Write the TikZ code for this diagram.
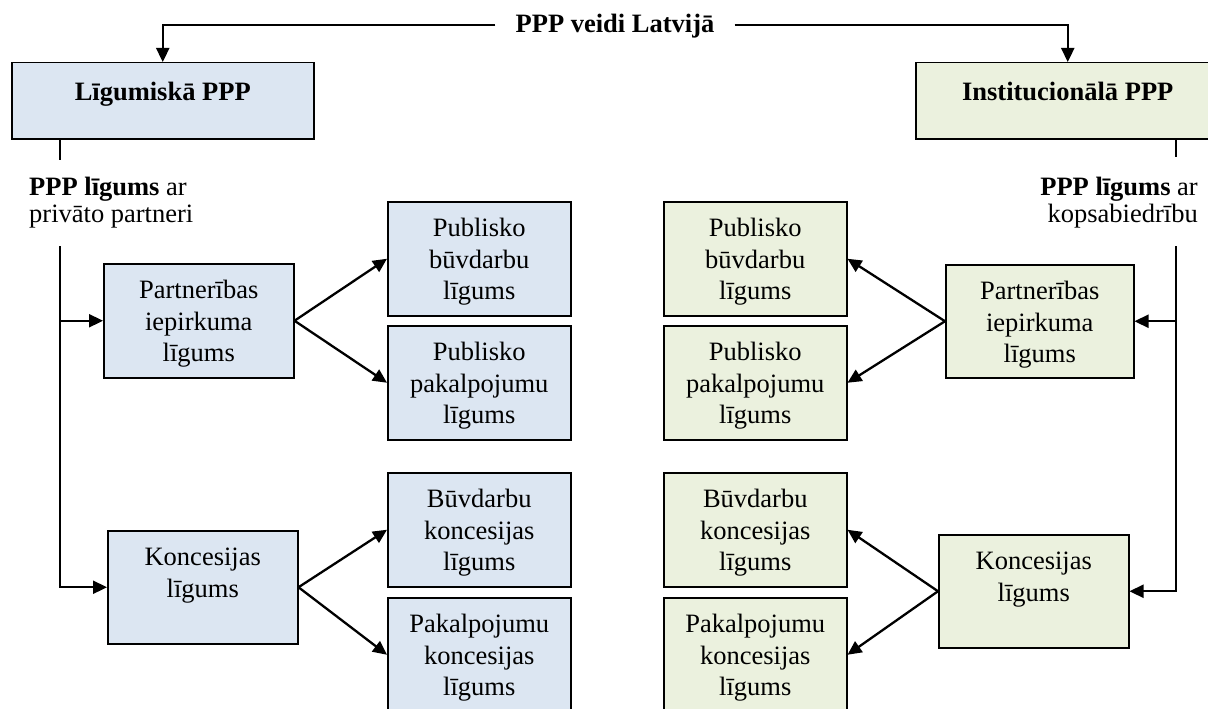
\documentclass[tikz,border=0pt]{standalone}
\usepackage{fontspec}
\setmainfont{Liberation Serif}
\usetikzlibrary{arrows.meta}
\definecolor{bluefill}{HTML}{DCE6F2}
\definecolor{greenfill}{HTML}{EBF1DE}
\newcommand\boxtxt[4]{\parbox[c][#1][t]{#2}{\centering\rule{0pt}{#3}#4}}
\begin{document}
\begin{tikzpicture}[x=1pt,y=-1pt,
  basefont/.style={font=\fontsize{26.5pt}{31.5pt}\selectfont, inner sep=0pt},
  bluebox/.style={basefont, rectangle, draw=black, line width=1.5pt, fill=bluefill, anchor=north west},
  greenbox/.style={basefont, rectangle, draw=black, line width=1.5pt, fill=greenfill, anchor=north west},
  conn/.style={line width=2.3pt, draw=black},
  arr/.style={conn, -{Triangle[length=14pt,width=13pt]}}]
\useasboundingbox (0,0) rectangle (1208,709);
\clip (0,0) rectangle (1208,709);
\fill[white] (0,0) rectangle (1208,709);

% title
\node[basefont, font=\fontsize{26.5pt}{31.5pt}\selectfont\bfseries, inner xsep=20pt, anchor=base] (title) at (615,33) {PPP veidi Latvijā};

% top boxes
\node[bluebox] (lbox) at (11,62) {\boxtxt{76pt}{302pt}{38pt}{\textbf{Līgumiskā PPP}}};
\node[greenbox] (rbox) at (915,62) {\boxtxt{76pt}{304pt}{38pt}{\textbf{Institucionālā PPP}}};

% side labels
\node[basefont, anchor=base west] (llab) at (29,195) {\parbox[t]{220pt}{\raggedright\fontsize{26.5pt}{27pt}\selectfont\textbf{PPP līgums} ar\\privāto partneri}};
\node[basefont, anchor=base east] (rlab) at (1198,195) {\parbox[t]{220pt}{\raggedleft\fontsize{26.5pt}{27pt}\selectfont\textbf{PPP līgums} ar\\kopsabiedrību}};

% left column
\node[bluebox] (lpart) at (103,263) {\boxtxt{114pt}{190pt}{35pt}{Partnerības\\iepirkuma\\līgums}};
\node[bluebox] (lkon) at (107,530) {\boxtxt{113pt}{190pt}{35pt}{Koncesijas\\līgums}};
\node[bluebox] (lpub1) at (387,201) {\boxtxt{114pt}{183pt}{35pt}{Publisko\\būvdarbu\\līgums}};
\node[bluebox] (lpub2) at (387,325) {\boxtxt{114pt}{183pt}{35pt}{Publisko\\pakalpojumu\\līgums}};
\node[bluebox] (lbk) at (387,472) {\boxtxt{114pt}{183pt}{35pt}{Būvdarbu\\koncesijas\\līgums}};
\node[bluebox] (lpk) at (387,597) {\boxtxt{114pt}{183pt}{35pt}{Pakalpojumu\\koncesijas\\līgums}};

% right column
\node[greenbox] (rpart) at (945,264) {\boxtxt{113pt}{188pt}{35pt}{Partnerības\\iepirkuma\\līgums}};
\node[greenbox] (rkon) at (938,534) {\boxtxt{113pt}{190pt}{35pt}{Koncesijas\\līgums}};
\node[greenbox] (rpub1) at (663,201) {\boxtxt{114pt}{183pt}{35pt}{Publisko\\būvdarbu\\līgums}};
\node[greenbox] (rpub2) at (663,325) {\boxtxt{114pt}{183pt}{35pt}{Publisko\\pakalpojumu\\līgums}};
\node[greenbox] (rbk) at (663,472) {\boxtxt{114pt}{183pt}{35pt}{Būvdarbu\\koncesijas\\līgums}};
\node[greenbox] (rpk) at (663,597) {\boxtxt{114pt}{183pt}{35pt}{Pakalpojumu\\koncesijas\\līgums}};

% top connectors
\coordinate (tlev) at (0,25);
\draw[arr] (title.west |- tlev) -| (lbox.north);
\draw[arr] (title.east |- tlev) -| (rbox.north);

% left trunk
\coordinate (la) at (60,160);
\coordinate (lb) at (60,246);
\draw[conn] (lbox.south -| la) -- (la);
\draw[arr] (lb) |- (lkon.west);
\draw[arr] (lpart.west -| lb) -- (lpart.west);

% right trunk
\coordinate (ra) at (1176,157);
\coordinate (rb) at (1176,246);
\draw[conn] (rbox.south -| ra) -- (ra);
\draw[arr] (rb) |- (rkon.east);
\draw[arr] (rpart.east -| rb) -- (rpart.east);

% branches
\draw[arr] (lpart.east) -- (lpub1.west);
\draw[arr] (lpart.east) -- (lpub2.west);
\draw[arr] (lkon.east) -- (lbk.west);
\draw[arr] (lkon.east) -- (lpk.west);
\draw[arr] (rpart.west) -- (rpub1.east);
\draw[arr] (rpart.west) -- (rpub2.east);
\draw[arr] (rkon.west) -- (rbk.east);
\draw[arr] (rkon.west) -- (rpk.east);
\end{tikzpicture}
\end{document}
